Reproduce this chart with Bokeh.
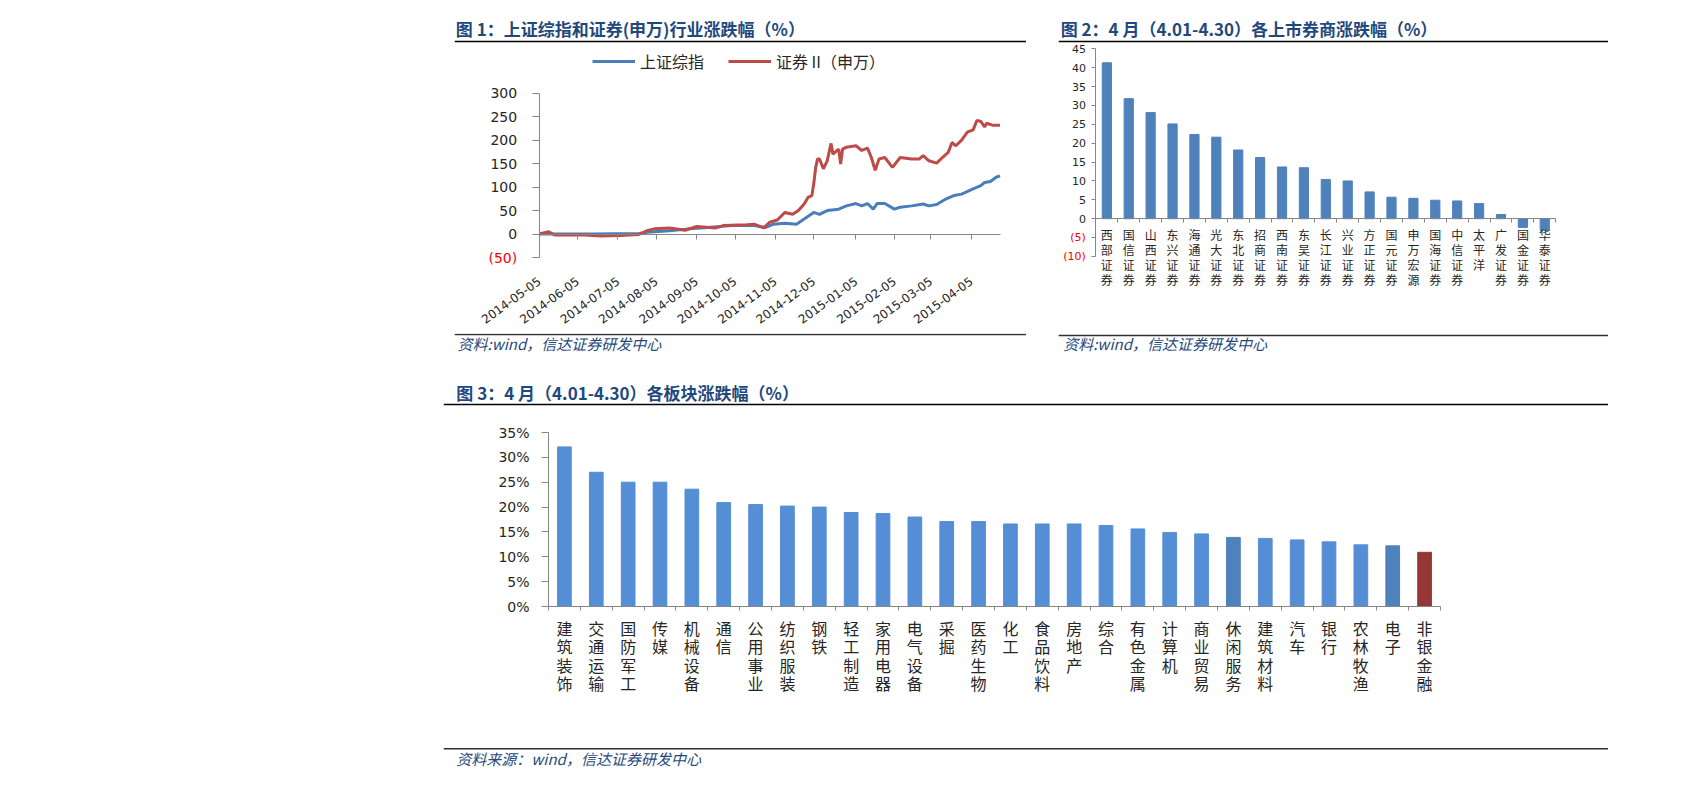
from bokeh.plotting import figure
from bokeh.models import (Range1d, LinearAxis, FixedTicker, Legend, LegendItem, Spacer,
                          PrintfTickFormatter)
from bokeh.layouts import row, column
from bokeh.embed import file_html
from bokeh.resources import INLINE
from bokeh.core.properties import value

# ---------------- texts ----------------
fig1_title = "图 1：上证综指和证券(申万)行业涨跌幅（%）"
fig2_title = "图 2：4 月（4.01-4.30）各上市券商涨跌幅（%）"
fig3_title = "图 3：4 月（4.01-4.30）各板块涨跌幅（%）"
source_12 = "资料:wind，信达证券研发中心"
source_3 = "资料来源：wind，信达证券研发中心"

# ---------------- chart 1 data (x = trading-day index since 2014-05-05) ----------------
series_names = ["上证综指", "证券 II（申万）"]
date_tick_pos = [0, 20, 41, 61, 82, 102, 123, 143, 165, 185, 204, 225]
date_tick_labels = ["2014-05-05", "2014-06-05", "2014-07-05", "2014-08-05", "2014-09-05",
                    "2014-10-05", "2014-11-05", "2014-12-05", "2015-01-05", "2015-02-05",
                    "2015-03-05", "2015-04-05"]
sh_x = [0, 8, 28, 52, 56, 68, 78, 88, 100, 112, 118, 122, 128, 134, 138, 143, 146, 150,
        156, 160, 165, 168, 171, 174, 176, 180, 185, 188, 194, 200, 203, 207, 212, 216,
        220, 226, 230, 232, 235, 238, 240]
sh_y = [0, 0, 0, 1, 4, 7, 11, 14, 18, 18, 14, 21, 23, 21, 32, 46, 42, 50,
        53, 60, 65, 60, 65, 53, 65, 65, 53, 57, 60, 64, 60, 63, 75, 82,
        85, 96, 103, 110, 112, 121, 124]
zq_x = [0, 5, 8, 16, 24, 32, 42, 52, 56, 60, 68, 76, 82, 92, 96, 108, 112, 117, 120, 124,
        128, 132, 135, 138, 140, 142, 143, 144, 145, 146, 148, 150, 152, 153, 156, 157, 158,
        160, 165, 168, 171, 173, 175, 177, 180, 184, 188, 194, 198, 200, 203, 207, 210, 213,
        215, 217, 220, 223, 226, 228, 230, 232, 233, 236, 240]
zq_y = [0, 5, -2, -2, -2, -4, -3, -1, 7, 11, 13, 8, 16, 13, 18, 20, 21, 13, 25, 30,
        46, 42, 50, 64, 78, 82, 107, 142, 160, 160, 139, 156, 193, 170, 181, 149, 181,
        185, 188, 178, 183, 163, 136, 160, 163, 142, 163, 160, 160, 167, 156, 151, 163, 174,
        195, 188, 200, 217, 222, 242, 240, 228, 236, 232, 232]
y1_ticks = [-50, 0, 50, 100, 150, 200, 250, 300]

# ---------------- chart 2 data ----------------
brokers = ["西部证券", "国信证券", "山西证券", "东兴证券", "海通证券", "光大证券", "东北证券",
           "招商证券", "西南证券", "东吴证券", "长江证券", "兴业证券", "方正证券", "国元证券",
           "申万宏源", "国海证券", "中信证券", "太平洋", "广发证券", "国金证券", "华泰证券"]
broker_chg = [41.3, 31.8, 28.1, 25.1, 22.3, 21.6, 18.2, 16.2, 13.7, 13.5, 10.4, 10.0, 7.1,
              5.7, 5.4, 4.9, 4.7, 4.0, 1.1, -2.3, -3.1]
y2_ticks = [-10, -5, 0, 5, 10, 15, 20, 25, 30, 35, 40, 45]

# ---------------- chart 3 data (%) ----------------
sectors = ["建筑装饰", "交通运输", "国防军工", "传媒", "机械设备", "通信", "公用事业", "纺织服装",
           "钢铁", "轻工制造", "家用电器", "电气设备", "采掘", "医药生物", "化工", "食品饮料",
           "房地产", "综合", "有色金属", "计算机", "商业贸易", "休闲服务", "建筑材料", "汽车",
           "银行", "农林牧渔", "电子", "非银金融"]
sector_chg = [32.1, 27.0, 25.0, 25.0, 23.6, 20.9, 20.5, 20.2, 20.0, 18.9, 18.7, 18.0, 17.1,
              17.1, 16.6, 16.6, 16.6, 16.3, 15.6, 14.9, 14.6, 13.9, 13.7, 13.4, 13.0, 12.4,
              12.2, 10.9]
y3_ticks = [0, 5, 10, 15, 20, 25, 30, 35]

# ---------------- styles ----------------
CJK = "Noto Sans CJK SC"
NUM = "DejaVu Sans"
TITLE_COLOR = "#1f497d"
SOURCE_COLOR = "#1f497d"
AXIS_COLOR = "#868686"
LABEL_COLOR = "#262626"
NEG_COLOR = "#ff0000"
BLUE_LINE = "#4a7ebb"
RED_LINE = "#be4b48"
BAR2 = "#4f81bd"
BAR3 = "#558ed5"
BAR3_SPECIAL = {"休闲服务": "#4f81bd", "电子": "#4f81bd", "非银金融": "#953735"}


def no_grid(p):
    p.xgrid.visible = False
    p.ygrid.visible = False
    return p


def base_fig(w, h, x_range, y_range, left=0, right=0, top=0, bottom=0):
    p = figure(width=w, height=h, x_range=x_range, y_range=y_range, output_backend="svg",
               toolbar_location=None, x_axis_location=None, y_axis_location=None,
               min_border_left=left, min_border_right=right, min_border_top=top,
               min_border_bottom=bottom, outline_line_color=None,
               background_fill_color="white", border_fill_color="white", frame_align=False)
    return no_grid(p)


def header(title, w, text_x, h=35, text_y=20.3, line_y=33):
    p = base_fig(w, h, Range1d(0, w), Range1d(h, 0))
    p.text(x=[text_x], y=[text_y], text=[title], text_font=value(CJK), text_font_style="bold",
           text_font_size="17px", text_color=TITLE_COLOR, text_baseline="middle",
           text_align="left")
    p.segment(x0=[0], y0=[line_y], x1=[w], y1=[line_y], line_color="#000000", line_width=1.6)
    return p


def footer(text, w, h, text_x, line_y, text_y):
    p = base_fig(w, h, Range1d(0, w), Range1d(h, 0))
    p.segment(x0=[0], y0=[line_y], x1=[w], y1=[line_y], line_color="#303030", line_width=1.6)
    p.text(x=[text_x], y=[text_y], text=[text], text_font=value(CJK), text_font_style="italic",
           text_font_size="15px", text_color=SOURCE_COLOR, text_baseline="middle",
           text_align="left")
    return p


def style_axis(ax, font=NUM, size="14px", color=LABEL_COLOR, tick_out=0, line=AXIS_COLOR,
               standoff=5):
    ax.axis_line_color = line
    ax.axis_line_width = 1
    ax.major_tick_line_color = AXIS_COLOR if tick_out else None
    ax.major_tick_out = tick_out
    ax.major_tick_in = 0
    ax.minor_tick_line_color = None
    ax.major_label_text_font = font
    ax.major_label_text_font_size = size
    ax.major_label_text_color = color
    ax.major_label_standoff = standoff


def value_axes(p, ticks, size, tick_out, standoff):
    """value axis at x=0: non-negative ticks in dark grey, negatives as red '(n)'"""
    pos = [t for t in ticks if t >= 0]
    neg = [t for t in ticks if t < 0]
    ax = LinearAxis(ticker=FixedTicker(ticks=pos), fixed_location=0,
                    bounds=(min(ticks), max(ticks)))
    style_axis(ax, size=size, tick_out=tick_out, standoff=standoff)
    p.add_layout(ax, "left")
    axn = LinearAxis(ticker=FixedTicker(ticks=neg), fixed_location=0,
                     major_label_overrides={t: "(%d)" % abs(t) for t in neg})
    style_axis(axn, size=size, tick_out=tick_out, standoff=standoff, color=NEG_COLOR, line=None)
    p.add_layout(axn, "left")


# ================= chart 1 (frame = whole figure, axes placed in data space) =================
p1 = base_fig(572, 290, Range1d(-44.1, 253.8), Range1d(-211.9, 405.9))
r_sh = p1.line(sh_x, sh_y, line_color=BLUE_LINE, line_width=3)
r_zq = p1.line(zq_x, zq_y, line_color=RED_LINE, line_width=3)
value_axes(p1, y1_ticks, "14px", 7, 15)

x1lab = LinearAxis(ticker=FixedTicker(ticks=date_tick_pos), fixed_location=min(y1_ticks),
                   major_label_overrides=dict(zip(date_tick_pos, date_tick_labels)))
style_axis(x1lab, size="12px", standoff=22, line=None)
x1lab.major_label_orientation = 0.63
p1.add_layout(x1lab, "below")
x1zero = LinearAxis(ticker=FixedTicker(ticks=date_tick_pos), fixed_location=0,
                    bounds=(0, max(sh_x)),
                    major_label_overrides={t: "" for t in date_tick_pos})
style_axis(x1zero, tick_out=5)
p1.add_layout(x1zero, "below")

leg = Legend(items=[LegendItem(label=series_names[0], renderers=[r_sh]),
                    LegendItem(label=series_names[1], renderers=[r_zq])],
             orientation="horizontal", location=(138, 260), border_line_color=None,
             background_fill_alpha=0, padding=0, margin=0, spacing=24, glyph_width=43,
             glyph_height=16, label_height=16, label_standoff=5, label_text_font=CJK,
             label_text_font_size="16px", label_text_color=LABEL_COLOR)
p1.add_layout(leg, "center")

panel1 = column(header(fig1_title, 572, 1.3), p1, footer(source_12, 572, 19, 3, 1, 10.3))

# ================= chart 2 (frame = whole figure) =================
n2 = len(brokers)
x2 = [i + 0.5 for i in range(n2)]
p2 = base_fig(550, 290, Range1d(-1.708, 23.41), Range1d(-30.4, 46.4))
p2.vbar(x=x2, top=broker_chg, bottom=0, width=0.42, fill_color=BAR2, line_color=BAR2)
value_axes(p2, y2_ticks, "11px", 4, 6)

x2lab = LinearAxis(ticker=FixedTicker(ticks=x2), fixed_location=0,
                   major_label_overrides={c: "\n".join(n) for c, n in zip(x2, brokers)})
style_axis(x2lab, font=CJK, size="12px", standoff=7, line=None)
x2lab.major_label_text_line_height = 0.886
p2.add_layout(x2lab, "below")
x2tick = LinearAxis(ticker=FixedTicker(ticks=list(range(n2 + 1))), fixed_location=0,
                    bounds=(0, n2), major_label_overrides={b: "" for b in range(n2 + 1)})
style_axis(x2tick, tick_out=4)
p2.add_layout(x2tick, "below")

panel2 = column(header(fig2_title, 550, 2.2), p2, footer(source_12, 550, 19, 4.7, 2, 10.3))

# ================= chart 3 =================
n3 = len(sectors)
x3 = [i + 0.5 for i in range(n3)]
colors3 = [BAR3_SPECIAL.get(n, BAR3) for n in sectors]
p3 = base_fig(1165, 338, Range1d(0, n3), Range1d(0, 35), 105, 168, 25, 139)
p3.vbar(x=x3, top=sector_chg, bottom=0, width=0.43, fill_color=colors3, line_color=colors3)
y3 = LinearAxis(ticker=FixedTicker(ticks=y3_ticks), formatter=PrintfTickFormatter(format="%d%%"))
style_axis(y3, size="14px", tick_out=7, standoff=12)
p3.add_layout(y3, "left")

x3lab = LinearAxis(ticker=FixedTicker(ticks=x3, minor_ticks=list(range(n3 + 1))),
                   major_label_overrides={c: "\n".join(n) for c, n in zip(x3, sectors)})
style_axis(x3lab, font=CJK, size="16px", standoff=5)
x3lab.minor_tick_line_color = AXIS_COLOR
x3lab.minor_tick_out = 4
x3lab.minor_tick_in = 0
x3lab.major_label_text_line_height = 0.775
p3.add_layout(x3lab, "below")

panel3 = column(header(fig3_title, 1165, 12.8, line_y=32), p3,
                footer(source_3, 1165, 25, 12.8, 3.3, 13.3))

layout = column(
    Spacer(width=10, height=8),
    row(Spacer(width=454, height=10), panel1, Spacer(width=32, height=10), panel2),
    Spacer(width=10, height=20),
    row(Spacer(width=443, height=10), panel3),
)

open("out.html", "w").write(file_html(layout, INLINE))
